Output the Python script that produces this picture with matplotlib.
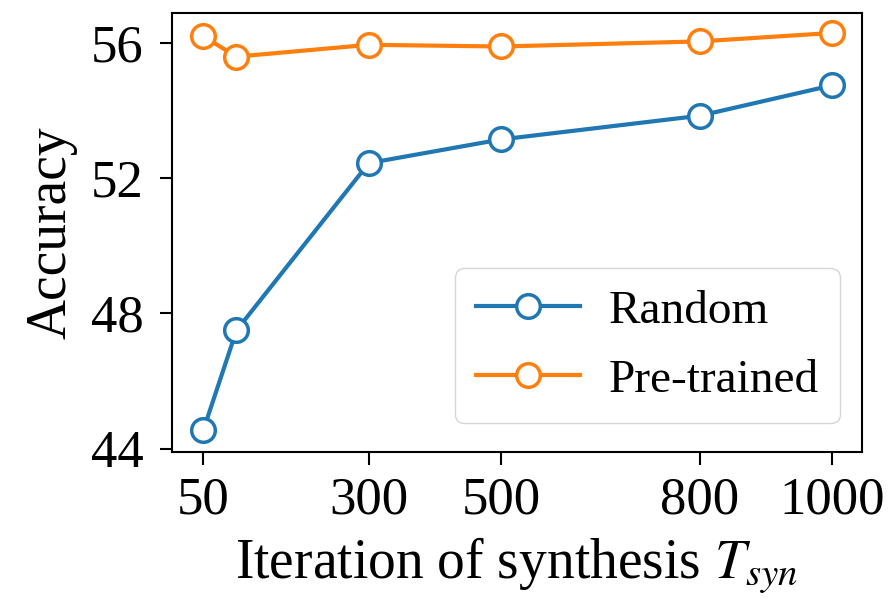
import matplotlib
matplotlib.use('Agg')
import matplotlib.pyplot as plt

plt.rcParams['font.family'] = ['Liberation Serif', 'DejaVu Serif']
plt.rcParams['mathtext.fontset'] = 'stix'

iterations = [50, 100, 300, 500, 800, 1000]
random_acc = [44.55, 47.5, 52.45, 53.15, 53.85, 54.75]
pretrained_acc = [56.2, 55.6, 55.95, 55.9, 56.05, 56.3]
xtick_vals = [50, 300, 500, 800, 1000]
ytick_vals = [44, 48, 52, 56]

fig = plt.figure(figsize=(8.94, 6.05), dpi=100)
ax = fig.add_axes([0.192, 0.253, 0.772, 0.726])

ax.plot(iterations, random_acc, '-o', color='#1f77b4', lw=3, ms=17,
        mfc='white', mew=2.5, label='Random')
ax.plot(iterations, pretrained_acc, '-o', color='#ff7f0e', lw=3, ms=17,
        mfc='white', mew=2.5, label='Pre-trained')

ax.set_xlim(2, 1045)
ax.set_ylim(43.9, 56.9)
ax.set_xticks(xtick_vals)
ax.set_yticks(ytick_vals)
ax.tick_params(labelsize=38, width=1.5, length=9)
ax.tick_params(axis='x', pad=9)
ax.tick_params(axis='y', pad=11)
for s in ax.spines.values():
    s.set_linewidth(1.5)

ax.set_xlabel('Iteration of synthesis $T_{syn}$', fontsize=40, labelpad=8)
ax.set_ylabel('Accuracy', fontsize=40, labelpad=10)
ax.legend(loc='lower right', fontsize=34, borderpad=0.45, labelspacing=0.55,
          handlelength=2.2, handletextpad=0.6, borderaxespad=0,
          bbox_to_anchor=(0.968, 0.066))

fig.savefig('out.png', dpi=100)
